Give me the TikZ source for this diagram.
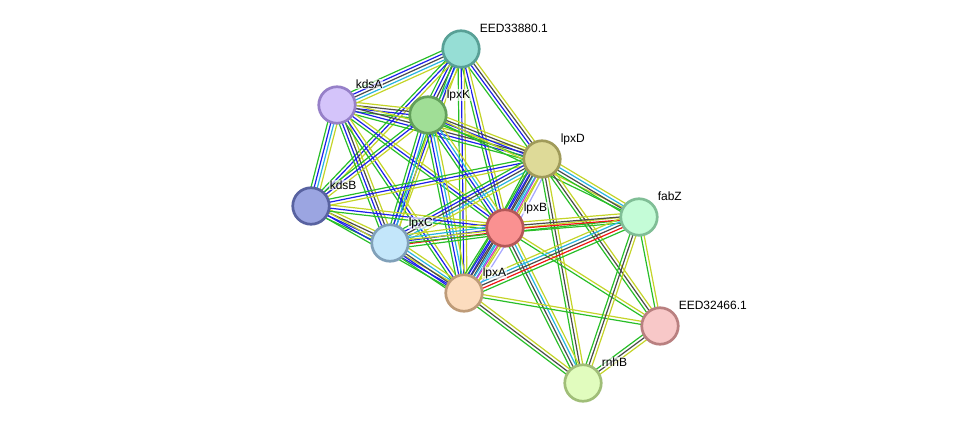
\documentclass[tikz,border=0pt]{standalone}
\usepackage{fontspec}
\setmainfont{Liberation Sans}
\usetikzlibrary{calc,backgrounds}
\definecolor{nb}{RGB}{40,190,40}
\definecolor{co}{RGB}{30,30,235}
\definecolor{cx}{RGB}{75,75,75}
\definecolor{db}{RGB}{40,180,225}
\definecolor{ex}{RGB}{210,50,210}
\definecolor{fu}{RGB}{240,20,20}
\definecolor{tm}{RGB}{196,212,40}
\definecolor{ho}{RGB}{165,165,255}
\newcommand\edg[3]{%
  \foreach \cc [count=\ii] in {#3} {\xdef\ncount{\ii}}%
  \foreach \cc [count=\ii] in {#3} {%
    \pgfmathsetmacro\off{(\ii-(\ncount+1)/2)*3.1}%
    \draw[color=\cc, line width=1.2pt] ($(#1)!\off pt!90:(#2)$) -- ($(#2)!\off pt!-90:(#1)$);
  }}
\tikzset{
  prot/.style={circle, minimum size=36.5pt, inner sep=0pt, line width=2.7pt},
  lab/.style={anchor=base west, font=\fontsize{12}{14}\selectfont, fill=white, fill opacity=0.65, text opacity=1, inner sep=0.6pt}
}
\begin{document}
\begin{tikzpicture}[x=1pt,y=-1pt]
\useasboundingbox (0,0) rectangle (975,429);
\node[prot, fill={rgb,255:red,150;green,222;blue,213}, draw={rgb,255:red,88;green,160;blue,150}] (E1) at (461,49) {};
\node[prot, fill={rgb,255:red,212;green,196;blue,250}, draw={rgb,255:red,150;green,128;blue,200}] (kdsA) at (337,105) {};
\node[prot, fill={rgb,255:red,160;green,222;blue,150}, draw={rgb,255:red,98;green,160;blue,90}] (lpxK) at (428,115) {};
\node[prot, fill={rgb,255:red,222;green,218;blue,152}, draw={rgb,255:red,160;green,155;blue,90}] (lpxD) at (542,159) {};
\node[prot, fill={rgb,255:red,155;green,165;blue,225}, draw={rgb,255:red,88;green,98;blue,160}] (kdsB) at (311,206) {};
\node[prot, fill={rgb,255:red,196;green,252;blue,215}, draw={rgb,255:red,128;green,190;blue,150}] (fabZ) at (639,217) {};
\node[prot, fill={rgb,255:red,250;green,145;blue,145}, draw={rgb,255:red,180;green,88;blue,88}] (lpxB) at (505,228) {};
\node[prot, fill={rgb,255:red,195;green,230;blue,250}, draw={rgb,255:red,128;green,160;blue,185}] (lpxC) at (390,243) {};
\node[prot, fill={rgb,255:red,252;green,220;blue,190}, draw={rgb,255:red,190;green,155;blue,120}] (lpxA) at (464,293) {};
\node[prot, fill={rgb,255:red,248;green,200;blue,200}, draw={rgb,255:red,185;green,128;blue,128}] (E2) at (660,326) {};
\node[prot, fill={rgb,255:red,225;green,252;blue,190}, draw={rgb,255:red,160;green,190;blue,120}] (rnhB) at (583,383) {};
\begin{pgfonlayer}{background}
\edg{E1}{kdsA}{nb,co,cx,db,tm}
\edg{E1}{lpxK}{nb,co,cx,db,tm}
\edg{E1}{lpxD}{nb,co,cx,tm}
\edg{E1}{kdsB}{nb,co,tm}
\edg{E1}{lpxC}{nb,co,tm}
\edg{E1}{lpxB}{nb,co,tm}
\edg{E1}{lpxA}{nb,co,tm}
\edg{kdsA}{lpxK}{nb,co,cx,tm}
\edg{kdsA}{lpxD}{nb,co,cx,tm}
\edg{kdsA}{kdsB}{nb,co,db,tm}
\edg{kdsA}{lpxC}{nb,co,cx,tm}
\edg{kdsA}{lpxB}{nb,co,tm}
\edg{kdsA}{lpxA}{nb,co,tm}
\edg{lpxK}{lpxD}{nb,co,cx,tm}
\edg{lpxK}{kdsB}{nb,co,tm}
\edg{lpxK}{lpxC}{nb,co,db,tm}
\edg{lpxK}{lpxB}{nb,co,db,tm}
\edg{lpxK}{lpxA}{nb,co,db,tm}
\edg{lpxK}{fabZ}{nb,tm}
\edg{lpxD}{kdsB}{nb,co,tm}
\edg{lpxD}{lpxC}{nb,co,cx,db,tm}
\edg{lpxD}{lpxB}{nb,co,cx,db,ex,tm,ho}
\edg{lpxD}{lpxA}{nb,co,cx,db,tm}
\edg{lpxD}{fabZ}{nb,cx,db,tm}
\edg{lpxD}{E2}{nb,cx,tm}
\edg{lpxD}{rnhB}{nb,cx,tm}
\edg{kdsB}{lpxC}{nb,co,cx,tm}
\edg{kdsB}{lpxB}{nb,co,tm}
\edg{kdsB}{lpxA}{nb,co,tm}
\edg{lpxC}{lpxB}{nb,fu,co,db,tm}
\edg{lpxC}{lpxA}{nb,co,cx,db,tm}
\edg{lpxC}{fabZ}{nb,tm}
\edg{lpxB}{lpxA}{nb,co,cx,db,ex,tm,ho}
\edg{lpxB}{fabZ}{nb,fu,cx,tm}
\edg{lpxB}{E2}{nb,tm}
\edg{lpxB}{rnhB}{nb,cx,db,tm}
\edg{lpxA}{fabZ}{nb,fu,cx,db,tm}
\edg{lpxA}{E2}{nb,tm}
\edg{lpxA}{rnhB}{nb,cx,tm}
\edg{fabZ}{E2}{nb,tm}
\edg{fabZ}{rnhB}{nb,cx,tm}
\edg{E2}{rnhB}{nb,cx,tm}
\end{pgfonlayer}
\node[lab] (tE1) at (479,32) {EED33880.1};
\node[lab] (tkdsA) at (355,88) {kdsA};
\node[lab] (tlpxK) at (446,98) {lpxK};
\node[lab] (tlpxD) at (560,142) {lpxD};
\node[lab] (tkdsB) at (329,189) {kdsB};
\node[lab] (tfabZ) at (657,200) {fabZ};
\node[lab] (tlpxB) at (523,211) {lpxB};
\node[lab] (tlpxC) at (408,226) {lpxC};
\node[lab] (tlpxA) at (482,276) {lpxA};
\node[lab] (tE2) at (678,309) {EED32466.1};
\node[lab] (trnhB) at (601,366) {rnhB};
\end{tikzpicture}
\end{document}
